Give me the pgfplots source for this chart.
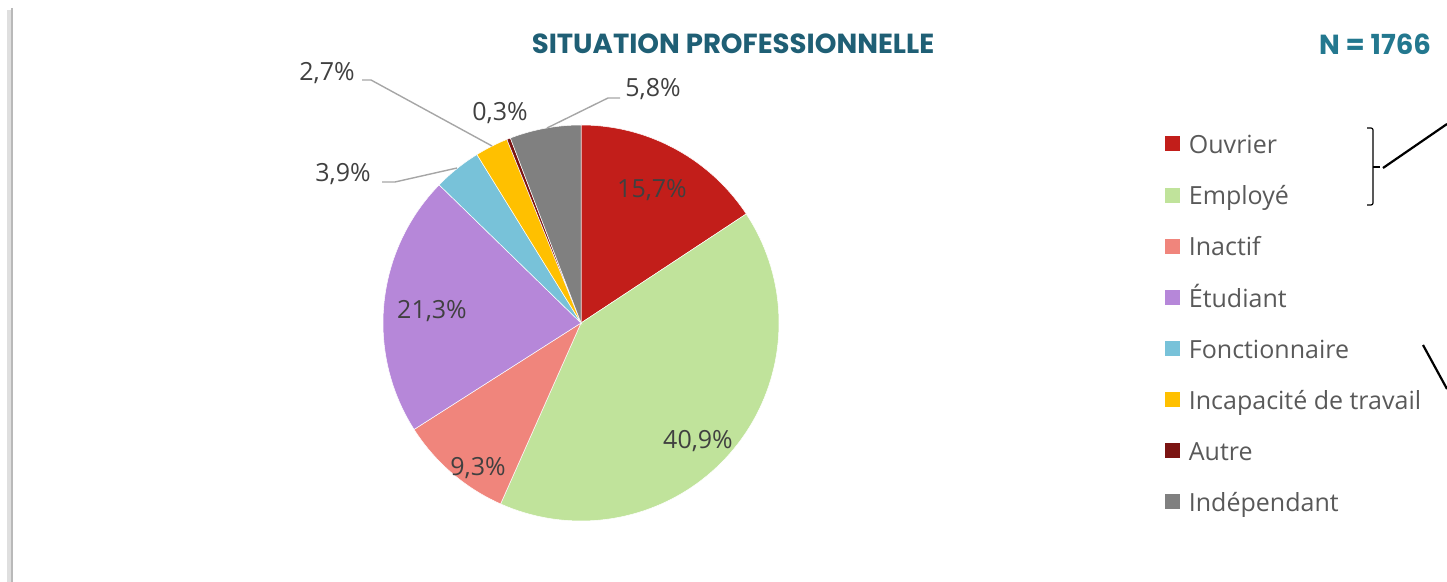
\documentclass[border=0pt]{standalone}
\usepackage{pgfplots}
\pgfplotsset{compat=1.18}
\usepackage{pgfplotstable}
\usepackage{fontspec}
\setmainfont{Open Sans}
\newfontfamily\titlefont{Poppins}

\definecolor{c0}{HTML}{C21E1A}
\definecolor{c1}{HTML}{C0E39B}
\definecolor{c2}{HTML}{F0857C}
\definecolor{c3}{HTML}{B687D9}
\definecolor{c4}{HTML}{78C2D9}
\definecolor{c5}{HTML}{FFC000}
\definecolor{c6}{HTML}{7B1412}
\definecolor{c7}{HTML}{808080}
\definecolor{titleblue}{HTML}{1F5F75}
\definecolor{nblue}{HTML}{23788F}
\definecolor{labgray}{HTML}{404040}
\definecolor{leggray}{HTML}{595959}
\definecolor{leadgray}{HTML}{A6A6A6}

% value = share in percent; lx, ly = label position (pixel grid of the chart)
\pgfplotstableread{
id value lx ly
0 15.7 652 190
1 40.9 698 441
2 9.3 478 468
3 21.3 432 311
4 3.9 343 174
5 2.7 327 73
6 0.3 500 113
7 5.8 653 89
}\pietable

% cumulative angles (clockwise from the top)
\xdef\pietotal{0}%
\foreach \i in {0,...,7}{%
  \pgfplotstablegetelem{\i}{value}\of\pietable
  \pgfmathsetmacro\tmp{\pietotal+\pgfplotsretval}%
  \xdef\pietotal{\tmp}%
}%
\xdef\cumsum{0}%
\foreach \i in {0,...,7}{%
  \pgfplotstablegetelem{\i}{value}\of\pietable
  \pgfmathsetmacro\e{\cumsum+\pgfplotsretval*360/\pietotal}%
  \expandafter\xdef\csname sa\i\endcsname{\cumsum}%
  \expandafter\xdef\csname ea\i\endcsname{\e}%
  \xdef\cumsum{\e}%
}%

\begin{document}
\begin{tikzpicture}
\begin{axis}[
  width=723.5pt, height=291pt, scale only axis,
  xmin=0, xmax=1447, ymin=0, ymax=582, y dir=reverse,
  hide axis, clip=false,
  legend style={at={(axis cs:1158,131)}, anchor=north west, draw=none, fill=none,
    font=\fontsize{12.5}{15}\selectfont, text=leggray, row sep=13.45pt,
    nodes={inner sep=0pt, text height=9pt, text depth=3pt}},
  legend cell align=left,
  legend image code/.code={\fill[#1] (0pt,-2pt) rectangle (8pt,6pt); \path (12pt,0pt);},
]
\coordinate (bbA) at (axis cs:0,582);
\coordinate (bbB) at (axis cs:1447,0);
\pgfplotsinvokeforeach{0,...,7}{
  \addplot[fill=c#1, draw=white, line width=0.25pt,
    domain=\csname sa#1\endcsname:\csname ea#1\endcsname, samples=80]
    ({581+198*sin(x)},{323-198*cos(x)}) -- (axis cs:581,323) -- cycle;
}
\legend{Ouvrier, Employé, Inactif, Étudiant, Fonctionnaire, Incapacité de travail, Autre, Indépendant}

% data labels
\pgfplotsinvokeforeach{0,...,7}{
  \pgfplotstablegetelem{#1}{value}\of\pietable\let\vv\pgfplotsretval
  \pgfplotstablegetelem{#1}{lx}\of\pietable\let\lx\pgfplotsretval
  \pgfplotstablegetelem{#1}{ly}\of\pietable\let\ly\pgfplotsretval
  \edef\temp{\noexpand\node[text=labgray, font=\noexpand\fontsize{12.5}{15}\noexpand\selectfont]
    at (axis cs:\lx,\ly) {\noexpand\pgfmathprintnumber[assume math mode=true,use comma,fixed,fixed zerofill,precision=1]{\vv}\noexpand\%};}
  \temp
}

% leader lines
\draw[leadgray, line width=0.7pt] (axis cs:362,80) -- (axis cs:371,80) -- (axis cs:492,146);
\draw[leadgray, line width=0.7pt] (axis cs:382,182) -- (axis cs:395,182) -- (axis cs:457,168);
\draw[leadgray, line width=0.7pt] (axis cs:620,98) -- (axis cs:608,98) -- (axis cs:547,128);

% titles
\node[font=\titlefont\bfseries\fontsize{13.8}{16}\selectfont, text=titleblue] at (axis cs:733,44) {SITUATION PROFESSIONNELLE};
\node[font=\titlefont\bfseries\fontsize{13.8}{16}\selectfont, text=nblue] at (axis cs:1375,44) {N = 1766};

% left border
\draw[gray!25, line width=2pt] (axis cs:9,10) -- (axis cs:9,582);
\draw[gray!55, line width=1pt] (axis cs:11.5,8) -- (axis cs:11.5,582);

% bracket and pointer lines
\draw[black, line width=0.6pt, rounded corners=1pt] (axis cs:1367,128) -- (axis cs:1373,128) -- (axis cs:1373,205) -- (axis cs:1367,205);
\draw[black, line width=0.6pt] (axis cs:1373,167) -- (axis cs:1380,167);
\draw[black, line width=1.1pt] (axis cs:1383,168) -- (axis cs:1447,124);
\draw[black, line width=1.1pt] (axis cs:1423,345) -- (axis cs:1447,389);
\end{axis}
\pgfresetboundingbox
\path[use as bounding box] (bbA) rectangle (bbB);
\end{tikzpicture}
\end{document}
